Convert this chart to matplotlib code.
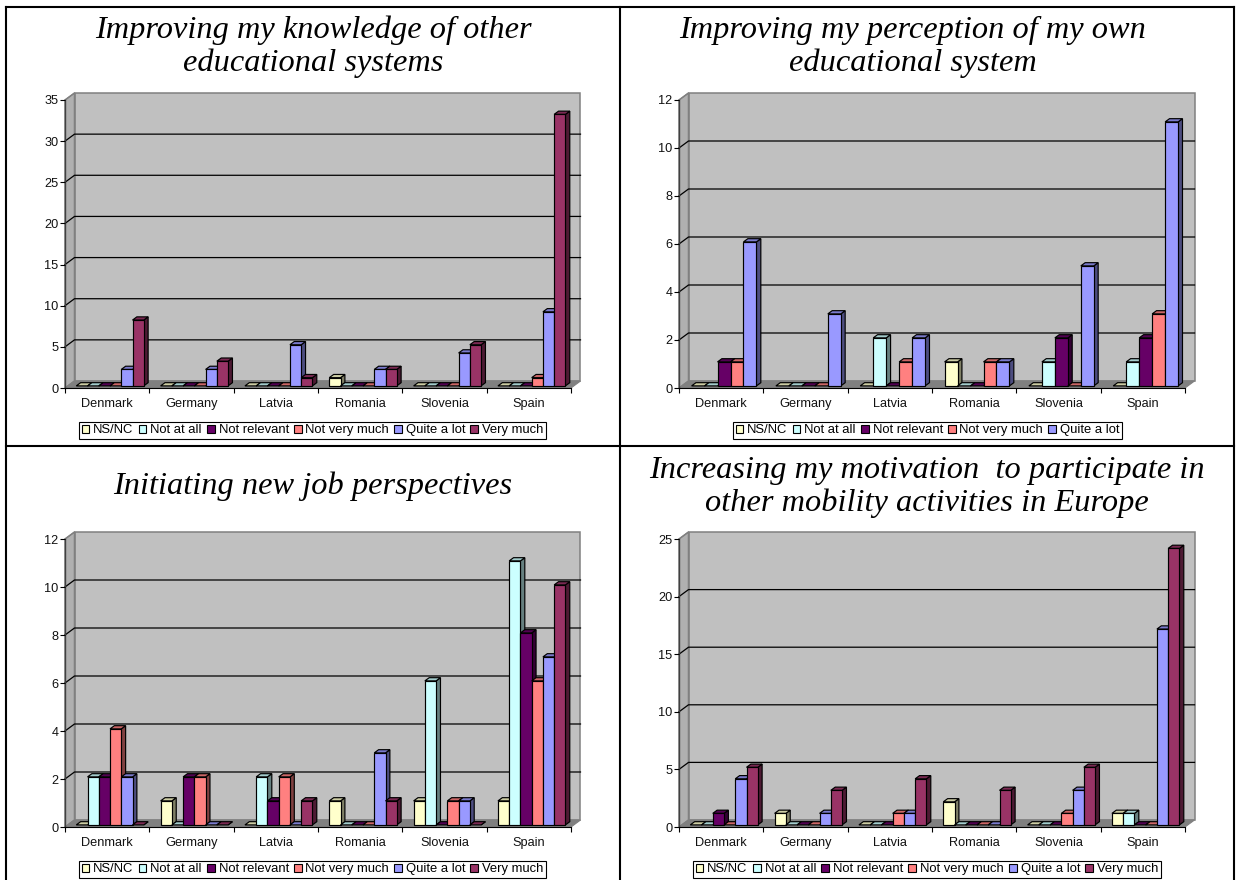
import numpy as np
import matplotlib
matplotlib.use("Agg")
import matplotlib.pyplot as plt
from matplotlib.patches import Polygon, Patch

# ---------- Data ----------
countries = ["Denmark", "Germany", "Latvia", "Romania", "Slovenia", "Spain"]
series_all = ["NS/NC", "Not at all", "Not relevant", "Not very much", "Quite a lot", "Very much"]
series_five = series_all[:5]

# rows = country, columns = series
knowledge = [[0, 0, 0, 0, 2, 8],
             [0, 0, 0, 0, 2, 3],
             [0, 0, 0, 0, 5, 1],
             [1, 0, 0, 0, 2, 2],
             [0, 0, 0, 0, 4, 5],
             [0, 0, 0, 1, 9, 33]]
perception = [[0, 0, 1, 1, 6],
              [0, 0, 0, 0, 3],
              [0, 2, 0, 1, 2],
              [1, 0, 0, 1, 1],
              [0, 1, 2, 0, 5],
              [0, 1, 2, 3, 11]]
job = [[0, 2, 2, 4, 2, 0],
       [1, 0, 2, 2, 0, 0],
       [0, 2, 1, 2, 0, 1],
       [1, 0, 0, 0, 3, 1],
       [1, 6, 0, 1, 1, 0],
       [1, 11, 8, 6, 7, 10]]
motivation = [[0, 0, 1, 0, 4, 5],
              [1, 0, 0, 0, 1, 3],
              [0, 0, 0, 1, 1, 4],
              [2, 0, 0, 0, 0, 3],
              [0, 0, 0, 1, 3, 5],
              [1, 1, 0, 0, 17, 24]]

colors = ["#FFFFCC", "#CCFFFF", "#660066", "#FF8080", "#9999FF", "#993366"]

W, H = 1236, 880
plt.rcParams["font.family"] = ["Liberation Sans", "DejaVu Sans"]
fig = plt.figure(figsize=(W / 100, H / 100), dpi=100, facecolor="white")

PLOT_W, PLOT_H = 506, 288   # front plane size in px
DX, DY = 9.5, 7.0           # floor depth in px


def shade(c, f):
    return tuple(np.array(matplotlib.colors.to_rgb(c)) * f)


# ---------- One chart ----------
def draw_chart(x0, y0, values, names, ymax, step, title, title_x, title_y, leg_box):
    ax = fig.add_axes([x0 / W, 1 - y0 / H, PLOT_W / W, PLOT_H / H])
    ax.set_xlim(0, 6)
    ax.set_ylim(0, ymax)
    ax.patch.set_visible(False)
    sx = 6 / PLOT_W
    sy = ymax / PLOT_H
    ox, oy = DX * sx, DY * sy

    def add(pts, face, edge="black", lw=0.85, z=2):
        ax.add_patch(Polygon(pts, closed=True, facecolor=face, edgecolor=edge,
                             linewidth=lw, clip_on=False, zorder=z, joinstyle="miter"))

    # walls and floor
    add([(ox, oy), (6 + ox, oy), (6 + ox, ymax + oy), (ox, ymax + oy)], "#C0C0C0", "#808080", 1.1, 1)
    add([(0, 0), (ox, oy), (ox, ymax + oy), (0, ymax)], "#B0B0B0", "#808080", 1.1, 1)
    add([(0, 0), (6, 0), (6 + ox, oy), (ox, oy)], "#808080", "#808080", 0.8, 1)

    # gridlines on back wall and side wall
    ticks = np.arange(0, ymax + step, step)
    for t in ticks:
        if t > 0 and t < ymax:
            ax.plot([0, ox, 6 + ox], [t, t + oy, t + oy], color="black", lw=0.9,
                    clip_on=False, zorder=1.5)
        elif t == ymax:
            ax.plot([0, ox], [t, t + oy], color="#808080", lw=0.8, clip_on=False, zorder=1.5)

    # bars
    n = len(names)
    w = 1 / (n + 1.5)
    d0, d1 = 0.3, 0.76
    z = 2.0
    for i, row in enumerate(values):
        for j, v in enumerate(row):
            xl = i + 0.75 * w + j * w + d0 * ox
            xr = xl + w
            yb = d0 * oy
            ddx, ddy = (d1 - d0) * ox, (d1 - d0) * oy
            c = colors[j]
            add([(xr, yb), (xr + ddx, yb + ddy), (xr + ddx, yb + v + ddy), (xr, yb + v)],
                shade(c, 0.5), z=z)
            add([(xl, yb + v), (xr, yb + v), (xr + ddx, yb + v + ddy), (xl + ddx, yb + v + ddy)],
                shade(c, 0.8), z=z)
            if v > 0:
                add([(xl, yb), (xr, yb), (xr, yb + v), (xl, yb + v)], c, z=z)
            z += 0.001

    # axes
    ax.set_yticks(ticks)
    ax.set_xticks(np.arange(7))
    ax.set_xticklabels([])
    ax.set_xticks(np.arange(6) + 0.5, labels=countries, minor=True)
    ax.tick_params(axis="y", length=3.6, width=0.8, pad=1, labelsize=9.2, labelcolor="#111111")
    ax.tick_params(axis="x", which="major", length=3.6, width=0.8)
    ax.tick_params(axis="x", which="minor", length=0, pad=7.5, labelsize=9.2, labelcolor="#111111")
    for s in ["top", "right"]:
        ax.spines[s].set_visible(False)
    ax.spines["left"].set_linewidth(1.0)
    ax.spines["left"].set_color("#404040")
    ax.spines["bottom"].set_linewidth(0.8)
    ax.set_axisbelow(False)

    # legend
    lx, ly0, lx1, ly1 = leg_box
    handles = [Patch(facecolor=colors[k], edgecolor="black", linewidth=0.8) for k in range(n)]
    leg = ax.legend(handles, names, ncol=n, mode="expand",
                    bbox_to_anchor=(lx / W, 1 - ly1 / H, (lx1 - lx) / W, (ly1 - ly0) / H),
                    bbox_transform=fig.transFigure, loc="lower left", fontsize=9.4,
                    fancybox=False, framealpha=1, edgecolor="black", borderaxespad=0,
                    handlelength=0.6, handleheight=0.6, handletextpad=0.3, columnspacing=0.2,
                    borderpad=0.2, labelspacing=0)
    leg.get_frame().set_linewidth(0.8)
    leg.set_zorder(10)

    # title
    fig.text(title_x / W, 1 - title_y / H, title, ha="center", va="center", fontsize=23.3,
             family="Liberation Serif", style="italic", color="black", linespacing=1.16)


draw_chart(65, 388, knowledge, series_all, 35, 5,
           "Improving my knowledge of other\neducational systems", 313, 47, (79, 421.5, 546, 439))
draw_chart(679, 388, perception, series_five, 12, 2,
           "Improving my perception of my own\neducational system", 913, 47, (733, 421.5, 1122, 439))
draw_chart(65, 827, job, series_all, 12, 2,
           "Initiating new job perspectives", 313, 486, (79, 860.5, 546, 878))
draw_chart(679, 827, motivation, series_all, 25, 5,
           "Increasing my motivation  to participate in\nother mobility activities in Europe", 927, 487,
           (693, 860.5, 1161, 878))

# ---------- Outer table lines ----------
for xs, ys in [([6, 1234], [7, 7]), ([6, 1234], [446, 446]),
               ([6, 6], [7, 880]), ([620, 620], [7, 880]), ([1234, 1234], [7, 880])]:
    fig.add_artist(plt.Line2D([x / W for x in xs], [1 - y / H for y in ys], color="black",
                              lw=1.5, transform=fig.transFigure, solid_capstyle="projecting"))

fig.savefig("out.png", dpi=100)
